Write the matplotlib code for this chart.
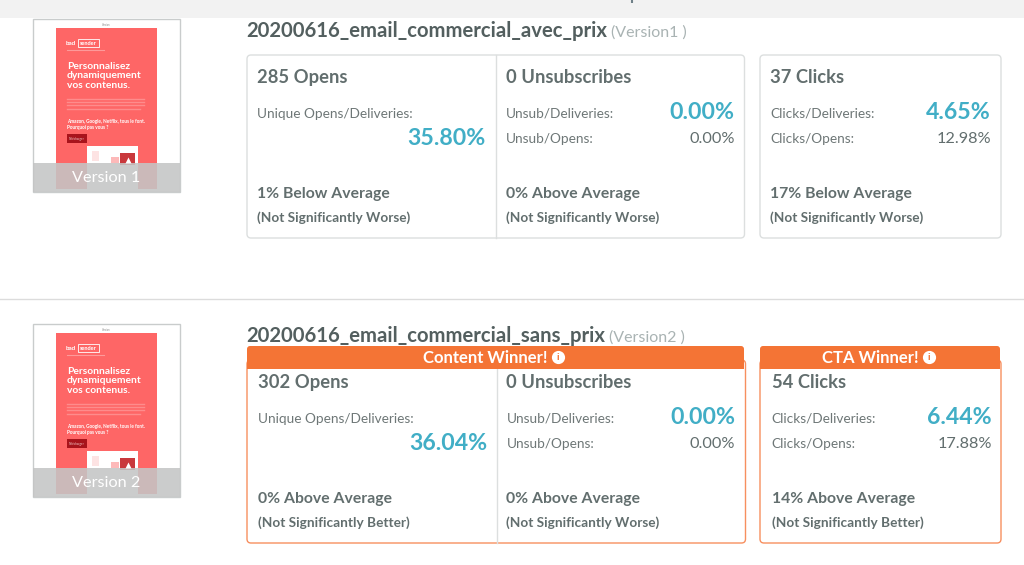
import matplotlib
matplotlib.use('Agg')
import matplotlib.pyplot as plt
from matplotlib.patches import FancyBboxPatch, Rectangle

plt.rcParams['font.family'] = ['Lato', 'DejaVu Sans']

# contenu du rapport
titres = ['20200616_email_commercial_avec_prix', '20200616_email_commercial_sans_prix']
versions = ['(Version1 )', '(Version2 )']
vignettes = ['Version 1', 'Version 2']

opens = ['285 Opens', '302 Opens']
opens_taux = ['35.80%', '36.04%']
opens_moy = ['1% Below Average', '0% Above Average']
opens_sig = ['(Not Significantly Worse)', '(Not Significantly Better)']

unsub = ['0 Unsubscribes', '0 Unsubscribes']
unsub_deliv = ['0.00%', '0.00%']
unsub_opens = ['0.00%', '0.00%']
unsub_moy = ['0% Above Average', '0% Above Average']
unsub_sig = ['(Not Significantly Worse)', '(Not Significantly Worse)']

clicks = ['37 Clicks', '54 Clicks']
clicks_deliv = ['4.65%', '6.44%']
clicks_opens = ['12.98%', '17.88%']
clicks_moy = ['17% Below Average', '14% Above Average']
clicks_sig = ['(Not Significantly Worse)', '(Not Significantly Better)']

GRIS = '#626e6e'
GRIS2 = '#6e7777'
BLEU = '#41aec6'
ORANGE = '#f47435'
ORANGE2 = '#f78f5f'
BORD = '#dcdfdf'

fig = plt.figure(figsize=(10.24, 5.65), dpi=100)
ax = fig.add_axes([0, 0, 1, 1])
ax.set_xlim(0, 1024)
ax.set_ylim(565, 0)
ax.axis('off')

# bandeau du haut et separateur
ax.add_patch(Rectangle((0, 0), 1024, 18, fc='#f2f2f2', ec='none'))
ax.plot([632, 632], [0, 3], color='#6f8088', lw=1.5, solid_capstyle='butt')
ax.plot([0, 1024], [298.5, 298.5], color='#dcdcdc', lw=1)


def txt(x, y, s, size, color=GRIS, weight='normal', ha='left'):
    ax.text(x, y + 1.2, s, fontsize=size, color=color, fontweight=weight, ha=ha, va='center')


def boite(x0, y0, x1, y1, ec, lw=1.0, fc='white', z=1):
    ax.add_patch(FancyBboxPatch((x0 + 3, y0 + 3), x1 - x0 - 6, y1 - y0 - 6,
                                boxstyle='round,pad=3,rounding_size=4',
                                fc=fc, ec=ec, lw=lw, zorder=z))


def vignette(dy, nom):
    ax.add_patch(Rectangle((33, 18.5 + dy), 146.5, 173.5, fc='white', ec='#c9cccc', lw=1))
    txt(106.5, 23.5 + dy, 'Version', 1.8, '#888888', 'normal', 'center')
    ax.add_patch(Rectangle((56, 28 + dy), 101, 161, fc='#fe6666', ec='none'))
    # faux logo
    txt(66, 42.5 + dy, 'bad', 4.5, 'white', 'bold')
    ax.add_patch(Rectangle((78, 39 + dy), 21, 8, fc='none', ec='white', lw=0.6))
    txt(88.5, 42.5 + dy, 'sender', 4, 'white', 'bold', 'center')
    ax.plot([67, 104], [49.5 + dy] * 2, color='#fd9a9a', lw=0.8)
    txt(67, 65 + dy, 'Personnalisez', 7.4, 'white', 'bold')
    txt(67, 74.5 + dy, 'dynamiquement', 7.4, 'white', 'bold')
    txt(67, 84 + dy, 'vos contenus.', 7.4, 'white', 'bold')
    for k in range(4):
        ax.plot([67, 144 - 4 * (k == 3)], [98.5 + k * 3.4 + dy] * 2, color='#fe8c8c', lw=1)
    txt(67, 120.5 + dy, 'Amazon, Google, Netflix, tous le font.', 3.4, 'white', 'bold')
    txt(67, 126.5 + dy, 'Pourquoi pas vous ?', 3.4, 'white', 'bold')
    ax.add_patch(Rectangle((67, 134 + dy), 20, 9, fc='#a8141c', ec='none'))
    txt(77, 137.5 + dy, 'Télécharger', 2.2, '#f3c9c9', 'normal', 'center')
    # capture dans le mail
    ax.add_patch(Rectangle((87, 146 + dy), 51, 43, fc='white', ec='none'))
    ax.add_patch(Rectangle((92, 151 + dy), 7, 10, fc='#fde3e3', ec='none'))
    ax.add_patch(Rectangle((111, 157 + dy), 8, 6, fc='#fdb9b9', ec='none'))
    ax.add_patch(Rectangle((120, 153 + dy), 15, 12, fc='#c9383c', ec='none'))
    ax.plot([127.5], [159.5 + dy], '^', ms=4.5, mfc='white', mec='none')
    ax.add_patch(Rectangle((33, 163 + dy), 146.5, 29, fc='#c4c5c5', ec='none', alpha=0.88))
    txt(106.5, 177 + dy, nom, 11.7, 'white', 'normal', 'center')


def info(x, y):
    ax.plot(x, y, 'o', ms=9.5, mfc='white', mec='none', zorder=5)
    ax.text(x, y, 'i', fontsize=7.5, color=ORANGE, fontweight='bold', ha='center', va='center', zorder=6)


def bandeau(x0, x1, y0, y1):
    # coins du haut arrondis, bas carre
    ax.add_patch(FancyBboxPatch((x0 + 3, y0 + 3), x1 - x0 - 6, y1 - y0 - 6,
                                boxstyle='round,pad=3,rounding_size=3',
                                fc=ORANGE, ec='none', zorder=3))
    ax.add_patch(Rectangle((x0, y1 - 8), x1 - x0, 8, fc=ORANGE, ec='none', zorder=3))


def version(i, dy, dx, gagnant):
    vignette(dy, vignettes[i])
    txt(246.5, 30 + dy, titres[i], 14.6, '#535f5f', 'bold')
    xv = 611 if i == 0 else 609
    txt(xv, 31 + dy, versions[i], 11.5, '#a9b3b3')

    ec = ORANGE2 if gagnant else BORD
    boite(247, 55 + dy, 744.5 + dx, 238 + dy, ec)
    ax.plot([495.5 + dx] * 2, [55 + dy, 238 + dy], color=BORD, lw=1, zorder=2)
    boite(760, 55 + dy, 1001, 238 + dy, ec)

    if gagnant:
        bandeau(247, 744, 346, 369)
        bandeau(760, 1000, 346, 369)
        ax.text(485, 358, 'Content Winner!', fontsize=12, color='white', fontweight='bold',
                ha='center', va='center', zorder=5)
        ax.text(870, 358, 'CTA Winner!', fontsize=12, color='white', fontweight='bold',
                ha='center', va='center', zorder=5)
        info(558, 357)
        info(929, 357)

    # colonne opens
    x = 257 + dx
    txt(x, 76 + dy, opens[i], 13.2, GRIS, 'bold')
    txt(x, 112.5 + dy, 'Unique Opens/Deliveries:', 9.85, GRIS2)
    txt(486 + dx, 137 + dy, opens_taux[i], 16.7, BLEU, 'bold', 'right')
    txt(x, 193 + dy, opens_moy[i], 11.3, GRIS, 'bold')
    txt(x, 216 + dy, opens_sig[i], 9.85, GRIS, 'bold')

    # colonne unsub
    x = 505.5 + dx
    txt(x, 76 + dy, unsub[i], 13.2, GRIS, 'bold')
    txt(x, 112.5 + dy, 'Unsub/Deliveries:', 9.85, GRIS2)
    txt(734.5 + dx, 111.5 + dy, unsub_deliv[i], 16.7, BLEU, 'bold', 'right')
    txt(x, 137.5 + dy, 'Unsub/Opens:', 9.85, GRIS2)
    txt(734.5 + dx, 137.5 + dy, unsub_opens[i], 11.7, GRIS, 'normal', 'right')
    txt(x, 193 + dy, unsub_moy[i], 11.3, GRIS, 'bold')
    txt(x, 216 + dy, unsub_sig[i], 9.85, GRIS, 'bold')

    # colonne clicks
    x = 770.5 + dx
    txt(x, 76 + dy, clicks[i], 13.2, GRIS, 'bold')
    txt(x, 112.5 + dy, 'Clicks/Deliveries:', 9.85, GRIS2)
    txt(991 + dx, 111.5 + dy, clicks_deliv[i], 16.7, BLEU, 'bold', 'right')
    txt(x, 137.5 + dy, 'Clicks/Opens:', 9.85, GRIS2)
    txt(991 + dx, 137.5 + dy, clicks_opens[i], 11.7, GRIS, 'normal', 'right')
    txt(x, 193 + dy, clicks_moy[i], 11.3, GRIS, 'bold')
    txt(x, 216 + dy, clicks_sig[i], 9.85, GRIS, 'bold')


version(0, 0, 0, False)
version(1, 305, 1, True)

fig.savefig('out.png', dpi=100)
